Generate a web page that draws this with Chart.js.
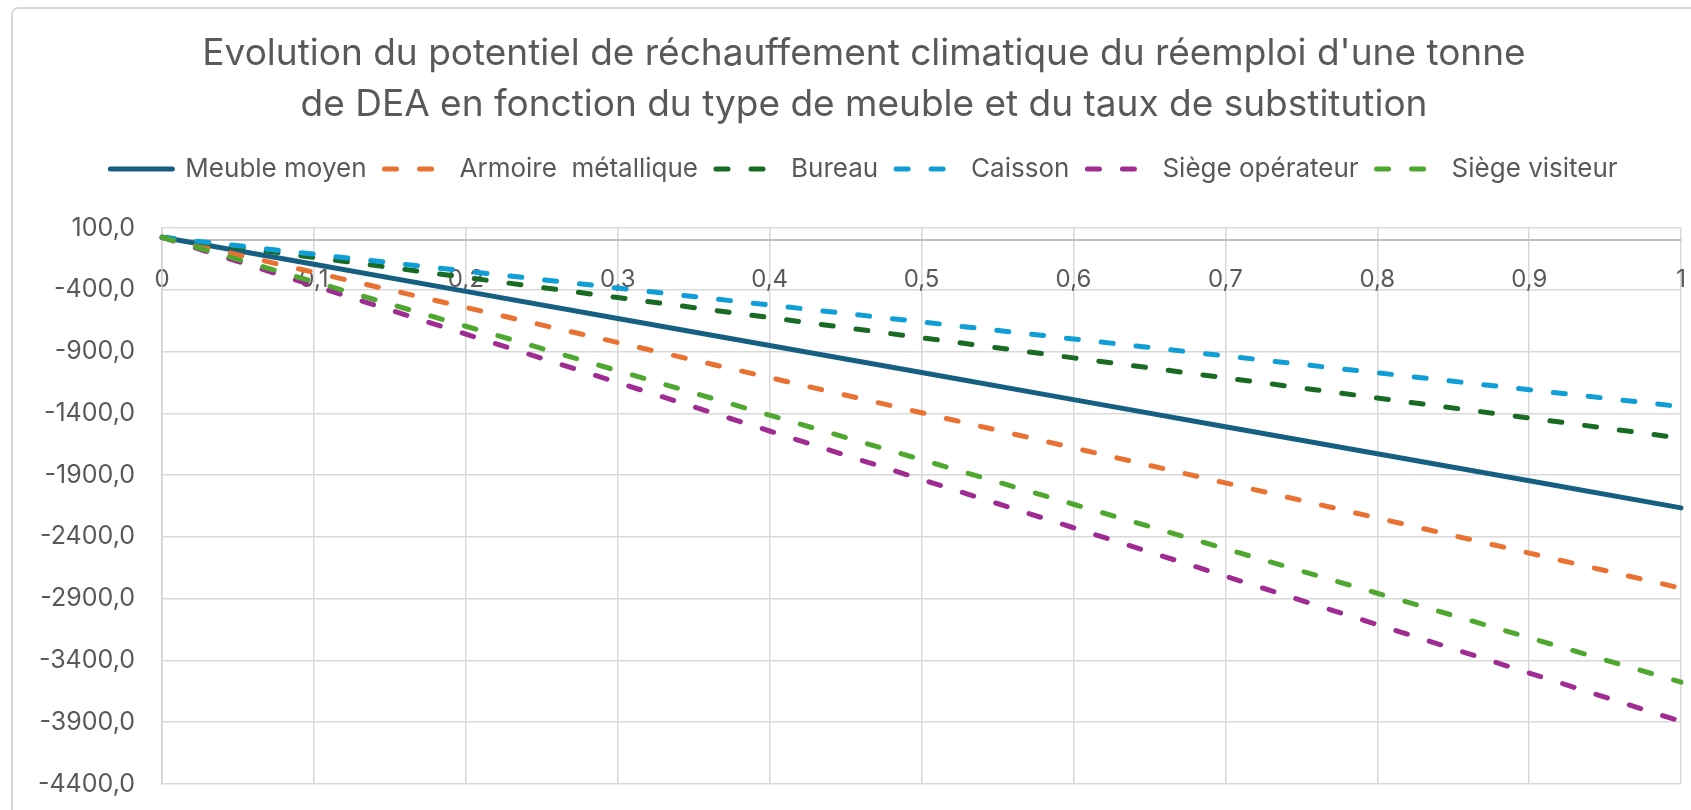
<!DOCTYPE html>
<html>
<head>
<meta charset="utf-8">
<script src="https://cdn.jsdelivr.net/npm/chart.js@4.4.0/dist/chart.umd.min.js"></script>
<style>
html,body{margin:0;padding:0;background:#ffffff;}
#wrap{position:absolute;left:0;top:0;width:1691px;height:810px;}
</style>
</head>
<body>
<div id="wrap"><canvas id="c" width="1691" height="810"></canvas></div>
<script>
// ---- Data ----
const categories = ['0', '0,1', '0,2', '0,3', '0,4', '0,5', '0,6', '0,7', '0,8', '0,9', '1'];
const meubleMoyen       = [25, -194, -413, -632, -851, -1070, -1289, -1508, -1727, -1946, -2165];
const armoireMetallique = [25, -259, -543, -827, -1111, -1395, -1679, -1963, -2247, -2531, -2815];
const bureau            = [25, -138, -300, -463, -625, -788, -951, -1113, -1276, -1438, -1601];
const caisson           = [25, -112, -249, -386, -523, -660, -798, -935, -1072, -1209, -1346];
const siegeOperateur    = [25, -367, -759, -1151, -1543, -1935, -2326, -2718, -3110, -3502, -3894];
const siegeVisiteur     = [25, -335, -695, -1055, -1415, -1775, -2136, -2496, -2856, -3216, -3576];
const seriesNames = ['Meuble moyen', 'Armoire  métallique', 'Bureau', 'Caisson', 'Siège opérateur', 'Siège visiteur'];
const yMin = -4400, yMax = 100, yStep = 500;
const titleLines = [
  "Evolution du potentiel de réchauffement climatique du réemploi d'une tonne",
  "de DEA en fonction du type de meuble et du taux de substitution"
];

const FONT = 'Inter, "Noto Sans", sans-serif';
const TXT = '#595959';
const colors = ['#156082', '#E97132', '#196B24', '#0F9ED5', '#A02B93', '#4EA72E'];
const seriesData = [meubleMoyen, armoireMetallique, bureau, caisson, siegeOperateur, siegeVisiteur];

const datasets = seriesData.map((d, i) => ({
  label: seriesNames[i],
  data: d,
  borderColor: colors[i],
  backgroundColor: colors[i],
  borderWidth: 5,
  borderDash: i === 0 ? [] : [12, 23],
  borderCapStyle: 'round',
  borderJoinStyle: 'round',
  pointRadius: 0,
  pointHoverRadius: 0,
  pointStyle: 'line',
  tension: 0,
  fill: false,
  order: 10 - i
}));

const framePlugin = {
  id: 'frame',
  beforeDraw(chart) {
    const ctx = chart.ctx;
    ctx.save();
    ctx.fillStyle = '#ffffff';
    ctx.fillRect(0, 0, chart.width, chart.height);
    ctx.strokeStyle = '#d9d9d9';
    ctx.lineWidth = 2;
    ctx.beginPath();
    ctx.roundRect(12, 8, 1720, 860, 6);
    ctx.stroke();
    ctx.restore();
  }
};

function fmt(v) {
  return Number(v).toFixed(1).replace('.', ',');
}

const PAD_LEFT = 12;

new Chart(document.getElementById('c'), {
  type: 'line',
  data: { labels: categories, datasets },
  plugins: [framePlugin],
  options: {
    responsive: false,
    animation: false,
    devicePixelRatio: 1,
    layout: { padding: { left: PAD_LEFT, right: -25, top: 0, bottom: 26 } },
    plugins: {
      title: {
        display: true,
        text: titleLines,
        color: TXT,
        font: { family: FONT, size: 37, weight: 'normal', lineHeight: 51 / 37 },
        padding: { top: 28.5, bottom: 7.5 }
      },
      subtitle: {
        display: true,
        text: '',
        weight: 500,
        font: { size: 36, lineHeight: 1 },
        padding: 0
      },
      legend: {
        display: true,
        position: 'top',
        labels: {
          usePointStyle: true,
          pointStyle: 'line',
          pointStyleWidth: 62,
          boxHeight: 22,
          padding: 18,
          color: TXT,
          font: { family: FONT, size: 26 },
          generateLabels(chart) {
            const items = Chart.defaults.plugins.legend.labels.generateLabels(chart);
            items.forEach(it => {
              const ds = chart.data.datasets[it.datasetIndex];
              it.lineDash = ds.borderDash;
              it.lineCap = 'round';
              it.lineWidth = ds.borderWidth;
              it.strokeStyle = ds.borderColor;
              it.fillStyle = ds.borderColor;
              it.pointStyle = 'line';
            });
            return items;
          },
          sort: (a, b) => a.datasetIndex - b.datasetIndex
        }
      },
      tooltip: { enabled: false }
    },
    scales: {
      x: {
        type: 'category',
        position: { y: 0 },
        offset: false,
        grid: { color: '#d9d9d9', lineWidth: 1.5, drawTicks: true, tickLength: 20, tickColor: 'rgba(0,0,0,0)' },
        border: { color: '#bfbfbf', width: 2 },
        ticks: { color: TXT, font: { family: FONT, size: 24 }, padding: 5, maxRotation: 0, autoSkip: false }
      },
      y: {
        min: yMin,
        max: yMax,
        grid: { color: '#d9d9d9', lineWidth: 1.5, drawTicks: true, tickLength: 27, tickColor: 'rgba(0,0,0,0)' },
        border: { color: '#d0d0d0', width: 1.5 },
        ticks: { stepSize: yStep, color: TXT, font: { family: FONT, size: 25 }, padding: 0, callback: v => fmt(v) },
        afterFit(s) { s.width = 162 - PAD_LEFT; }
      }
    }
  }
});
</script>
</body>
</html>
